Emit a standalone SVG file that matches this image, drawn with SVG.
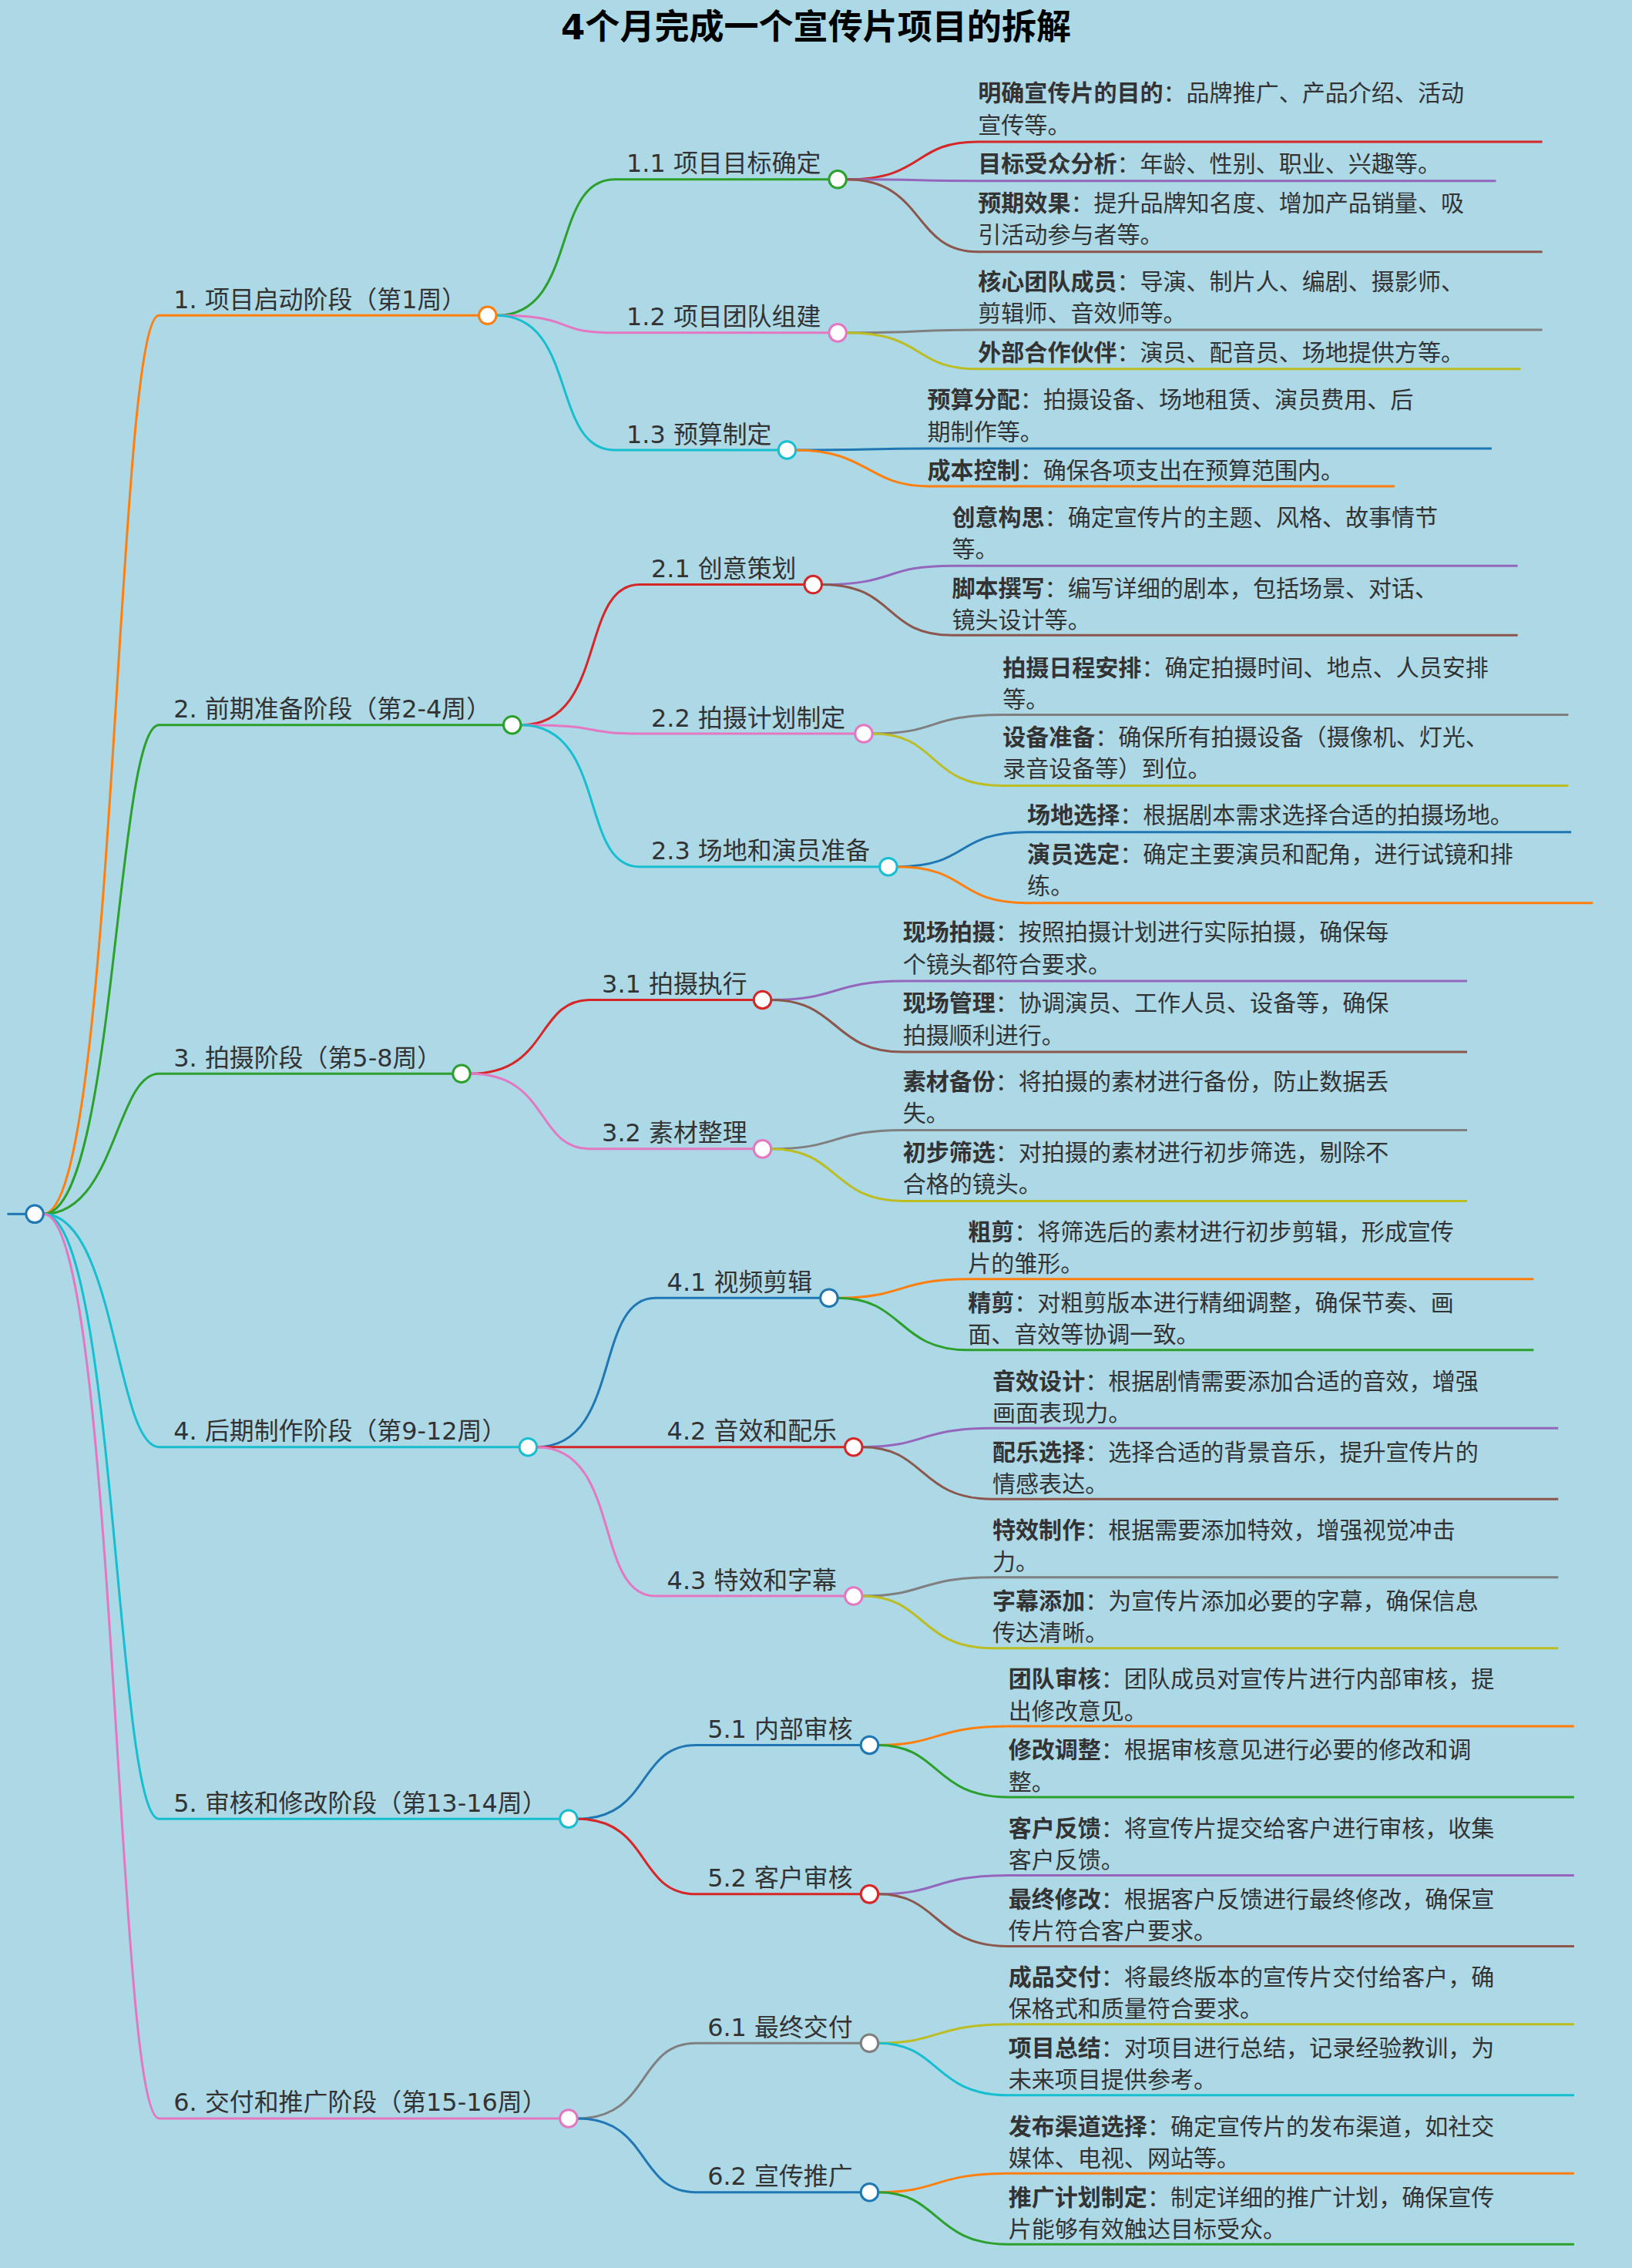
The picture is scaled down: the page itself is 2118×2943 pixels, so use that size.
<svg xmlns="http://www.w3.org/2000/svg" width="2118" height="2943" viewBox="0 0 2118 2943">
<style>
text{font-family:"DejaVu Sans","Noto Sans CJK SC",sans-serif;fill:#333}
.t{font-size:24px;font-weight:bold;fill:#000}
.b{font-size:17px}
.l{font-size:16px}
.k{font-weight:bold}
path{fill:none;stroke-width:1.6}
circle{fill:#fff;stroke-width:1.6}
.or{stroke:#ff7f0e}.gr{stroke:#2ca02c}.rd{stroke:#d62728}.pu{stroke:#9467bd}.br{stroke:#8c564b}.pk{stroke:#e377c2}.gy{stroke:#7f7f7f}.ol{stroke:#bcbd22}.cy{stroke:#17becf}.bl{stroke:#1f77b4}
</style>
<rect width="2118" height="2943" fill="#add8e6"/>
<g transform="scale(1.87766)">
<text class="t" x="564" y="27" text-anchor="middle">4个月完成一个宣传片项目的拆解</text>
<g id="connectors">
<path class="bl" d="M5 839H18"/>
<path class="or" d="M30 839C80 839 80 218 110 218H331"/>
<path class="gr" d="M30 839C80 839 80 501 110 501H348"/>
<path class="gr" d="M30 839C80 839 80 742 110 742H313"/>
<path class="cy" d="M30 839C80 839 80 1000 110 1000H359"/>
<path class="cy" d="M30 839C80 839 80 1257 110 1257H387"/>
<path class="pk" d="M30 839C80 839 80 1464 110 1464H387"/>
<path class="gr" d="M343 218C400 218 380 124 425 124H573"/>
<path class="pk" d="M343 218C400 218 380 230 425 230H573"/>
<path class="cy" d="M343 218C400 218 380 311 425 311H538"/>
<path class="rd" d="M360 501C420 501 400 404 442 404H556"/>
<path class="pk" d="M360 501C420 501 400 507 442 507H591"/>
<path class="cy" d="M360 501C420 501 400 599 442 599H608"/>
<path class="rd" d="M325 742C380 742 370 691 408 691H521"/>
<path class="pk" d="M325 742C380 742 370 794 408 794H521"/>
<path class="bl" d="M371 1000C430 1000 410 897 453 897H567"/>
<path class="rd" d="M371 1000C430 1000 410 1000 453 1000H584"/>
<path class="pk" d="M371 1000C430 1000 410 1103 453 1103H584"/>
<path class="bl" d="M399 1257C450 1257 440 1206 481 1206H595"/>
<path class="rd" d="M399 1257C450 1257 440 1309 481 1309H595"/>
<path class="gy" d="M399 1464C450 1464 440 1412 481 1412H595"/>
<path class="bl" d="M399 1464C450 1464 440 1515 481 1515H595"/>
<path class="rd" d="M585 124C640 124 630 98 676 98H1066"/>
<path class="pu" d="M585 124C640 124 630 125 676 125H1034"/>
<path class="br" d="M585 124C640 124 630 174 676 174H1066"/>
<path class="gy" d="M585 230C640 230 630 228 676 228H1066"/>
<path class="ol" d="M585 230C640 230 630 255 676 255H1051"/>
<path class="bl" d="M550 311C600 311 600 310 641 310H1031"/>
<path class="or" d="M550 311C600 311 600 336 641 336H964"/>
<path class="pu" d="M568 404C620 404 610 391 658 391H1049"/>
<path class="br" d="M568 404C620 404 610 439 658 439H1049"/>
<path class="gy" d="M603 507C650 507 640 494 693 494H1084"/>
<path class="ol" d="M603 507C650 507 640 543 693 543H1084"/>
<path class="bl" d="M620 599C670 599 660 575 710 575H1086"/>
<path class="or" d="M620 599C670 599 660 624 710 624H1101"/>
<path class="pu" d="M533 691C580 691 575 678 624 678H1014"/>
<path class="br" d="M533 691C580 691 575 727 624 727H1014"/>
<path class="gy" d="M533 794C580 794 575 781 624 781H1014"/>
<path class="ol" d="M533 794C580 794 575 830 624 830H1014"/>
<path class="or" d="M579 897C625 897 620 884 669 884H1060"/>
<path class="gr" d="M579 897C625 897 620 933 669 933H1060"/>
<path class="pu" d="M596 1000C640 1000 635 987 686 987H1077"/>
<path class="br" d="M596 1000C640 1000 635 1036 686 1036H1077"/>
<path class="gy" d="M596 1103C640 1103 635 1090 686 1090H1077"/>
<path class="ol" d="M596 1103C640 1103 635 1139 686 1139H1077"/>
<path class="or" d="M607 1206C650 1206 645 1193 697 1193H1088"/>
<path class="gr" d="M607 1206C650 1206 645 1242 697 1242H1088"/>
<path class="pu" d="M607 1309C650 1309 645 1296 697 1296H1088"/>
<path class="br" d="M607 1309C650 1309 645 1345 697 1345H1088"/>
<path class="ol" d="M607 1412C650 1412 645 1399 697 1399H1088"/>
<path class="cy" d="M607 1412C650 1412 645 1448 697 1448H1088"/>
<path class="or" d="M607 1515C650 1515 645 1502 697 1502H1088"/>
<path class="gr" d="M607 1515C650 1515 645 1551 697 1551H1088"/>
</g>
<g id="root"><circle class="bl" cx="24" cy="839" r="6"/></g>
<g id="n1"><text class="b" x="120" y="213">1. 项目启动阶段（第1周）</text><circle class="or" cx="337" cy="218" r="6"/></g>
<g id="n2"><text class="b" x="120" y="496">2. 前期准备阶段（第2-4周）</text><circle class="gr" cx="354" cy="501" r="6"/></g>
<g id="n3"><text class="b" x="120" y="737">3. 拍摄阶段（第5-8周）</text><circle class="gr" cx="319" cy="742" r="6"/></g>
<g id="n4"><text class="b" x="120" y="995">4. 后期制作阶段（第9-12周）</text><circle class="cy" cx="365" cy="1000" r="6"/></g>
<g id="n5"><text class="b" x="120" y="1252">5. 审核和修改阶段（第13-14周）</text><circle class="cy" cx="393" cy="1257" r="6"/></g>
<g id="n6"><text class="b" x="120" y="1459">6. 交付和推广阶段（第15-16周）</text><circle class="pk" cx="393" cy="1464" r="6"/></g>
<g id="n11"><text class="b" x="433" y="119">1.1 项目目标确定</text><circle class="gr" cx="579" cy="124" r="6"/></g>
<g id="n12"><text class="b" x="433" y="225">1.2 项目团队组建</text><circle class="pk" cx="579" cy="230" r="6"/></g>
<g id="n13"><text class="b" x="433" y="306">1.3 预算制定</text><circle class="cy" cx="544" cy="311" r="6"/></g>
<g id="n21"><text class="b" x="450" y="399">2.1 创意策划</text><circle class="rd" cx="562" cy="404" r="6"/></g>
<g id="n22"><text class="b" x="450" y="502">2.2 拍摄计划制定</text><circle class="pk" cx="597" cy="507" r="6"/></g>
<g id="n23"><text class="b" x="450" y="594">2.3 场地和演员准备</text><circle class="cy" cx="614" cy="599" r="6"/></g>
<g id="n31"><text class="b" x="416" y="686">3.1 拍摄执行</text><circle class="rd" cx="527" cy="691" r="6"/></g>
<g id="n32"><text class="b" x="416" y="789">3.2 素材整理</text><circle class="pk" cx="527" cy="794" r="6"/></g>
<g id="n41"><text class="b" x="461" y="892">4.1 视频剪辑</text><circle class="bl" cx="573" cy="897" r="6"/></g>
<g id="n42"><text class="b" x="461" y="995">4.2 音效和配乐</text><circle class="rd" cx="590" cy="1000" r="6"/></g>
<g id="n43"><text class="b" x="461" y="1098">4.3 特效和字幕</text><circle class="pk" cx="590" cy="1103" r="6"/></g>
<g id="n51"><text class="b" x="489" y="1201">5.1 内部审核</text><circle class="bl" cx="601" cy="1206" r="6"/></g>
<g id="n52"><text class="b" x="489" y="1304">5.2 客户审核</text><circle class="rd" cx="601" cy="1309" r="6"/></g>
<g id="n61"><text class="b" x="489" y="1407">6.1 最终交付</text><circle class="gy" cx="601" cy="1412" r="6"/></g>
<g id="n62"><text class="b" x="489" y="1510">6.2 宣传推广</text><circle class="bl" cx="601" cy="1515" r="6"/></g>
<g id="leaves" class="l">
<text class="l" x="676" y="70"><tspan class="k">明确宣传片的目的</tspan>：品牌推广、产品介绍、活动</text><text class="l" x="676" y="92">宣传等。</text>
<text class="l" x="676" y="119"><tspan class="k">目标受众分析</tspan>：年龄、性别、职业、兴趣等。</text>
<text class="l" x="676" y="146"><tspan class="k">预期效果</tspan>：提升品牌知名度、增加产品销量、吸</text><text class="l" x="676" y="168">引活动参与者等。</text>
<text class="l" x="676" y="200"><tspan class="k">核心团队成员</tspan>：导演、制片人、编剧、摄影师、</text><text class="l" x="676" y="222">剪辑师、音效师等。</text>
<text class="l" x="676" y="249"><tspan class="k">外部合作伙伴</tspan>：演员、配音员、场地提供方等。</text>
<text class="l" x="641" y="282"><tspan class="k">预算分配</tspan>：拍摄设备、场地租赁、演员费用、后</text><text class="l" x="641" y="304">期制作等。</text>
<text class="l" x="641" y="331"><tspan class="k">成本控制</tspan>：确保各项支出在预算范围内。</text>
<text class="l" x="658" y="363"><tspan class="k">创意构思</tspan>：确定宣传片的主题、风格、故事情节</text><text class="l" x="658" y="385">等。</text>
<text class="l" x="658" y="412"><tspan class="k">脚本撰写</tspan>：编写详细的剧本，包括场景、对话、</text><text class="l" x="658" y="434">镜头设计等。</text>
<text class="l" x="693" y="467"><tspan class="k">拍摄日程安排</tspan>：确定拍摄时间、地点、人员安排</text><text class="l" x="693" y="489">等。</text>
<text class="l" x="693" y="515"><tspan class="k">设备准备</tspan>：确保所有拍摄设备（摄像机、灯光、</text><text class="l" x="693" y="537">录音设备等）到位。</text>
<text class="l" x="710" y="569"><tspan class="k">场地选择</tspan>：根据剧本需求选择合适的拍摄场地。</text>
<text class="l" x="710" y="596"><tspan class="k">演员选定</tspan>：确定主要演员和配角，进行试镜和排</text><text class="l" x="710" y="618">练。</text>
<text class="l" x="624" y="650"><tspan class="k">现场拍摄</tspan>：按照拍摄计划进行实际拍摄，确保每</text><text class="l" x="624" y="672">个镜头都符合要求。</text>
<text class="l" x="624" y="699"><tspan class="k">现场管理</tspan>：协调演员、工作人员、设备等，确保</text><text class="l" x="624" y="721">拍摄顺利进行。</text>
<text class="l" x="624" y="753"><tspan class="k">素材备份</tspan>：将拍摄的素材进行备份，防止数据丢</text><text class="l" x="624" y="775">失。</text>
<text class="l" x="624" y="802"><tspan class="k">初步筛选</tspan>：对拍摄的素材进行初步筛选，剔除不</text><text class="l" x="624" y="824">合格的镜头。</text>
<text class="l" x="669" y="857"><tspan class="k">粗剪</tspan>：将筛选后的素材进行初步剪辑，形成宣传</text><text class="l" x="669" y="879">片的雏形。</text>
<text class="l" x="669" y="906"><tspan class="k">精剪</tspan>：对粗剪版本进行精细调整，确保节奏、画</text><text class="l" x="669" y="928">面、音效等协调一致。</text>
<text class="l" x="686" y="960"><tspan class="k">音效设计</tspan>：根据剧情需要添加合适的音效，增强</text><text class="l" x="686" y="982">画面表现力。</text>
<text class="l" x="686" y="1009"><tspan class="k">配乐选择</tspan>：选择合适的背景音乐，提升宣传片的</text><text class="l" x="686" y="1031">情感表达。</text>
<text class="l" x="686" y="1063"><tspan class="k">特效制作</tspan>：根据需要添加特效，增强视觉冲击</text><text class="l" x="686" y="1085">力。</text>
<text class="l" x="686" y="1112"><tspan class="k">字幕添加</tspan>：为宣传片添加必要的字幕，确保信息</text><text class="l" x="686" y="1134">传达清晰。</text>
<text class="l" x="697" y="1166"><tspan class="k">团队审核</tspan>：团队成员对宣传片进行内部审核，提</text><text class="l" x="697" y="1188">出修改意见。</text>
<text class="l" x="697" y="1215"><tspan class="k">修改调整</tspan>：根据审核意见进行必要的修改和调</text><text class="l" x="697" y="1237">整。</text>
<text class="l" x="697" y="1269"><tspan class="k">客户反馈</tspan>：将宣传片提交给客户进行审核，收集</text><text class="l" x="697" y="1291">客户反馈。</text>
<text class="l" x="697" y="1318"><tspan class="k">最终修改</tspan>：根据客户反馈进行最终修改，确保宣</text><text class="l" x="697" y="1340">传片符合客户要求。</text>
<text class="l" x="697" y="1372"><tspan class="k">成品交付</tspan>：将最终版本的宣传片交付给客户，确</text><text class="l" x="697" y="1394">保格式和质量符合要求。</text>
<text class="l" x="697" y="1421"><tspan class="k">项目总结</tspan>：对项目进行总结，记录经验教训，为</text><text class="l" x="697" y="1443">未来项目提供参考。</text>
<text class="l" x="697" y="1475"><tspan class="k">发布渠道选择</tspan>：确定宣传片的发布渠道，如社交</text><text class="l" x="697" y="1497">媒体、电视、网站等。</text>
<text class="l" x="697" y="1524"><tspan class="k">推广计划制定</tspan>：制定详细的推广计划，确保宣传</text><text class="l" x="697" y="1546">片能够有效触达目标受众。</text>
</g>
</g>
</svg>
